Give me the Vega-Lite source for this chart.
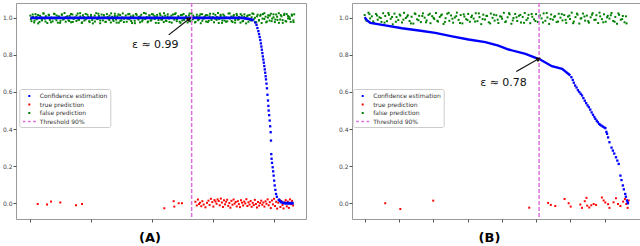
{
"$schema":"https://vega.github.io/schema/vega-lite/v6.json",
"padding":{"left":1,"top":1,"right":0,"bottom":0},
"spacing":46,
"bounds":"flush",
"resolve":{"scale":{"color":"independent","shape":"independent"}},
"datasets":{
"gA":[{"x":0,"y":1.012},{"x":18,"y":0.982},{"x":41,"y":1.005},{"x":63,"y":0.975},{"x":85,"y":1.02},{"x":104,"y":0.992},{"x":127,"y":1.015},{"x":150,"y":0.978},{"x":171,"y":1.003},{"x":190,"y":0.986},{"x":214,"y":1.024},{"x":236,"y":0.995},{"x":255,"y":1.009},{"x":279,"y":0.972},{"x":300,"y":1.017},{"x":322,"y":0.989},{"x":343,"y":1.001},{"x":366,"y":0.981},{"x":389,"y":1.022},{"x":408,"y":0.997},{"x":430,"y":1.013},{"x":452,"y":0.974},{"x":474,"y":1.007},{"x":496,"y":0.984},{"x":517,"y":1.019},{"x":539,"y":0.991},{"x":562,"y":1.026},{"x":582,"y":0.979},{"x":604,"y":1.004},{"x":627,"y":0.987},{"x":648,"y":1.011},{"x":670,"y":0.976},{"x":692,"y":1.018},{"x":713,"y":0.994},{"x":735,"y":1.002},{"x":757,"y":0.983},{"x":779,"y":1.023},{"x":800,"y":0.99},{"x":822,"y":1.008},{"x":845,"y":0.973},{"x":866,"y":1.014},{"x":888,"y":0.985},{"x":910,"y":1.021},{"x":931,"y":0.998},{"x":953,"y":1.006},{"x":975,"y":0.977},{"x":997,"y":1.016},{"x":1018,"y":0.988},{"x":1041,"y":1.0},{"x":1062,"y":0.98},{"x":1084,"y":1.025},{"x":1106,"y":0.993},{"x":1127,"y":1.01},{"x":1149,"y":0.971},{"x":1172,"y":1.018},{"x":1193,"y":0.986},{"x":1215,"y":1.003},{"x":1236,"y":0.978},{"x":1259,"y":1.02},{"x":1281,"y":0.996},{"x":1302,"y":1.012},{"x":1324,"y":0.975},{"x":1346,"y":1.006},{"x":1368,"y":0.983},{"x":1390,"y":1.022},{"x":1411,"y":0.99},{"x":1433,"y":1.009},{"x":1455,"y":0.974},{"x":1477,"y":1.015},{"x":1498,"y":0.987},{"x":1520,"y":1.024},{"x":1542,"y":0.995},{"x":1563,"y":1.001},{"x":1585,"y":0.979},{"x":1608,"y":1.019},{"x":1629,"y":0.992},{"x":1651,"y":1.008},{"x":1673,"y":0.972},{"x":1694,"y":1.013},{"x":1716,"y":0.984},{"x":1738,"y":1.021},{"x":1760,"y":0.998},{"x":1781,"y":1.005},{"x":1804,"y":0.976},{"x":1825,"y":1.017},{"x":1847,"y":0.989},{"x":1869,"y":1.026},{"x":1890,"y":0.993},{"x":1912,"y":1.004},{"x":1934,"y":0.98},{"x":1956,"y":1.014},{"x":1977,"y":0.985},{"x":1999,"y":1.02},{"x":2021,"y":0.997},{"x":2043,"y":1.01},{"x":2064,"y":0.973},{"x":2086,"y":1.016},{"x":2108,"y":0.988},{"x":2130,"y":1.023},{"x":2151,"y":0.991},{"x":2173,"y":1.007},{"x":2195,"y":0.977},{"x":2217,"y":1.012},{"x":2238,"y":0.983},{"x":2260,"y":1.019},{"x":2282,"y":0.996},{"x":2303,"y":1.002},{"x":2325,"y":0.974},{"x":2347,"y":1.018},{"x":2369,"y":0.99},{"x":2390,"y":1.025},{"x":2412,"y":0.994},{"x":2434,"y":1.009},{"x":2456,"y":0.979},{"x":2477,"y":1.015},{"x":2499,"y":0.986},{"x":2521,"y":1.021},{"x":2543,"y":0.999},{"x":2564,"y":1.006},{"x":2586,"y":0.975},{"x":2608,"y":1.013},{"x":2630,"y":0.982},{"x":2651,"y":1.024},{"x":2673,"y":0.992},{"x":2695,"y":1.003},{"x":2717,"y":0.978},{"x":2738,"y":1.017},{"x":2760,"y":0.987},{"x":2782,"y":1.011},{"x":2804,"y":0.971},{"x":2825,"y":1.02},{"x":2847,"y":0.995},{"x":2869,"y":1.008},{"x":2891,"y":0.98},{"x":2912,"y":1.014},{"x":2934,"y":0.984},{"x":2956,"y":1.022},{"x":2978,"y":0.997},{"x":2999,"y":1.004},{"x":3021,"y":0.976},{"x":3043,"y":1.016},{"x":3065,"y":0.989},{"x":3086,"y":1.026},{"x":3108,"y":0.993},{"x":3130,"y":1.01},{"x":3152,"y":0.973},{"x":3173,"y":1.018},{"x":3195,"y":0.985},{"x":3217,"y":1.002},{"x":3239,"y":0.981},{"x":3260,"y":1.023},{"x":3282,"y":0.996},{"x":3304,"y":1.007},{"x":3326,"y":0.977},{"x":3347,"y":1.015},{"x":3369,"y":0.988},{"x":3391,"y":1.021},{"x":3413,"y":0.99},{"x":3434,"y":1.005},{"x":3456,"y":0.974},{"x":3478,"y":1.012},{"x":3500,"y":0.983},{"x":3521,"y":1.019},{"x":3543,"y":0.998},{"x":3565,"y":1.009},{"x":3587,"y":0.979},{"x":3608,"y":1.016},{"x":3630,"y":0.986},{"x":3652,"y":1.024},{"x":3674,"y":0.992},{"x":3695,"y":1.001},{"x":3717,"y":0.975},{"x":3739,"y":1.017},{"x":3761,"y":0.988},{"x":3782,"y":1.011},{"x":3804,"y":0.972},{"x":3826,"y":1.02},{"x":3848,"y":0.994},{"x":3869,"y":1.006},{"x":3891,"y":0.98},{"x":3913,"y":1.014},{"x":3935,"y":0.985},{"x":3956,"y":1.022},{"x":3978,"y":0.996},{"x":4000,"y":1.003},{"x":4022,"y":0.977},{"x":4043,"y":1.018},{"x":4065,"y":0.989},{"x":4087,"y":1.025},{"x":4109,"y":0.991},{"x":4130,"y":1.008},{"x":4152,"y":0.973},{"x":4174,"y":1.015},{"x":4196,"y":0.983},{"x":4217,"y":1.02},{"x":4239,"y":0.997},{"x":4261,"y":1.004},{"x":4283,"y":0.978},{"x":4304,"y":1.012},{"x":4326,"y":0.986},{"x":4340,"y":1.019},
{"x":9,"y":0.994},{"x":39,"y":1.018},{"x":69,"y":0.985},{"x":99,"y":1.006},{"x":129,"y":0.97},{"x":159,"y":1.011},{"x":189,"y":0.99},{"x":219,"y":1.023},{"x":249,"y":0.98},{"x":279,"y":1.0},{"x":309,"y":1.014},{"x":339,"y":0.976},{"x":369,"y":0.997},{"x":399,"y":1.02},{"x":429,"y":0.987},{"x":459,"y":1.008},{"x":489,"y":0.973},{"x":519,"y":1.016},{"x":549,"y":0.993},{"x":579,"y":1.003},{"x":609,"y":1.009},{"x":639,"y":0.983},{"x":669,"y":1.021},{"x":699,"y":0.978},{"x":729,"y":0.999},{"x":759,"y":1.013},{"x":789,"y":0.989},{"x":819,"y":1.025},{"x":849,"y":0.975},{"x":879,"y":1.004},{"x":909,"y":0.991},{"x":939,"y":1.017},{"x":969,"y":0.982},{"x":999,"y":1.007},{"x":1029,"y":0.97},{"x":1059,"y":1.012},{"x":1089,"y":0.996},{"x":1119,"y":1.022},{"x":1149,"y":0.986},{"x":1179,"y":1.001},{"x":1209,"y":1.015},{"x":1239,"y":0.979},{"x":1269,"y":1.005},{"x":1299,"y":0.988},{"x":1329,"y":1.024},{"x":1359,"y":0.992},{"x":1389,"y":1.01},{"x":1419,"y":0.974},{"x":1449,"y":1.019},{"x":1479,"y":0.984},{"x":1509,"y":1.002},{"x":1539,"y":0.977},{"x":1569,"y":1.013},{"x":1599,"y":0.995},{"x":1629,"y":1.021},{"x":1659,"y":0.983},{"x":1689,"y":1.006},{"x":1719,"y":0.971},{"x":1749,"y":1.016},{"x":1779,"y":0.99},{"x":1809,"y":1.008},{"x":1839,"y":0.981},{"x":1869,"y":1.0},{"x":1899,"y":1.023},{"x":1929,"y":0.976},{"x":1959,"y":1.011},{"x":1989,"y":0.987},{"x":2019,"y":1.018},{"x":2049,"y":0.994},{"x":2079,"y":1.004},{"x":2109,"y":0.972},{"x":2139,"y":1.014},{"x":2169,"y":0.99},{"x":2199,"y":1.025},{"x":2229,"y":0.985},{"x":2259,"y":1.007},{"x":2289,"y":0.978},{"x":2319,"y":1.012},{"x":2349,"y":0.998},{"x":2379,"y":1.02},{"x":2409,"y":0.982},{"x":2439,"y":1.001},{"x":2469,"y":0.973},{"x":2499,"y":1.016},{"x":2529,"y":0.989},{"x":2559,"y":1.009},{"x":2589,"y":0.996},{"x":2619,"y":1.023},{"x":2649,"y":0.98},{"x":2679,"y":1.012},{"x":2709,"y":0.975},{"x":2739,"y":1.005},{"x":2769,"y":0.992},{"x":2799,"y":1.019},{"x":2829,"y":0.984},{"x":2859,"y":1.002},{"x":2889,"y":1.015},{"x":2919,"y":0.977},{"x":2949,"y":1.008},{"x":2979,"y":0.988},{"x":3009,"y":1.022},{"x":3039,"y":0.995},{"x":3069,"y":1.004},{"x":3099,"y":0.972},{"x":3129,"y":1.017},{"x":3159,"y":0.986},{"x":3189,"y":1.011},{"x":3219,"y":0.979},{"x":3249,"y":1.0},{"x":3279,"y":1.024},{"x":3309,"y":0.983},{"x":3339,"y":1.009},{"x":3369,"y":0.974},{"x":3399,"y":1.014},{"x":3429,"y":0.993},{"x":3459,"y":1.02},{"x":3489,"y":0.981},{"x":3519,"y":1.006},{"x":3549,"y":0.97},{"x":3579,"y":1.013},{"x":3609,"y":0.99},{"x":3639,"y":1.003},{"x":3669,"y":1.021},{"x":3699,"y":0.978},{"x":3729,"y":1.008},{"x":3759,"y":0.985},{"x":3789,"y":1.017},{"x":3819,"y":0.996},{"x":3849,"y":1.025},{"x":3879,"y":0.976},{"x":3909,"y":1.002},{"x":3939,"y":1.012},{"x":3969,"y":0.982},{"x":3999,"y":1.019},{"x":4029,"y":0.991},{"x":4059,"y":1.006},{"x":4089,"y":0.973},{"x":4119,"y":1.015},{"x":4149,"y":0.988},{"x":4179,"y":1.022},{"x":4209,"y":0.98},{"x":4239,"y":1.01},{"x":4269,"y":0.994},{"x":4299,"y":1.018},{"x":4329,"y":0.977}],
"rA":[{"x":121,"y":-0.004},{"x":274,"y":-0.007},{"x":340,"y":0.009},{"x":493,"y":0.004},{"x":751,"y":-0.011},{"x":850,"y":-0.004},{"x":2204,"y":-0.027},{"x":2357,"y":0.011},{"x":2368,"y":-0.018},{"x":2440,"y":0.0},{"x":2494,"y":0.0},{"x":2715,"y":0.008},{"x":2738,"y":-0.012},{"x":2756,"y":0.02},{"x":2775,"y":-0.004},{"x":2790,"y":0.003},{"x":2812,"y":-0.016},{"x":2830,"y":0.011},{"x":2851,"y":-0.007},{"x":2880,"y":-0.022},{"x":2905,"y":0.002},{"x":2930,"y":0.014},{"x":2948,"y":-0.009},{"x":2970,"y":0.024},{"x":2992,"y":0.006},{"x":3010,"y":-0.018},{"x":3028,"y":0.017},{"x":3045,"y":0.009},{"x":3063,"y":-0.003},{"x":3080,"y":0.021},{"x":3098,"y":0.012},{"x":3115,"y":-0.011},{"x":3133,"y":0.025},{"x":3150,"y":0.004},{"x":3168,"y":-0.02},{"x":3185,"y":0.016},{"x":3203,"y":-0.006},{"x":3220,"y":0.008},{"x":3238,"y":0.019},{"x":3255,"y":-0.014},{"x":3273,"y":0.001},{"x":3290,"y":-0.024},{"x":3308,"y":0.013},{"x":3325,"y":-0.008},{"x":3343,"y":0.02},{"x":3360,"y":-0.002},{"x":3378,"y":0.007},{"x":3395,"y":-0.017},{"x":3413,"y":0.011},{"x":3430,"y":-0.005},{"x":3448,"y":-0.021},{"x":3465,"y":0.016},{"x":3483,"y":0.003},{"x":3500,"y":-0.012},{"x":3518,"y":0.009},{"x":3535,"y":-0.001},{"x":3553,"y":0.022},{"x":3570,"y":-0.015},{"x":3588,"y":0.005},{"x":3605,"y":-0.007},{"x":3623,"y":0.012},{"x":3640,"y":-0.019},{"x":3658,"y":0.002},{"x":3675,"y":-0.01},{"x":3693,"y":0.018},{"x":3710,"y":-0.004},{"x":3728,"y":-0.023},{"x":3745,"y":0.007},{"x":3763,"y":-0.013},{"x":3780,"y":0.001},{"x":3798,"y":0.014},{"x":3815,"y":-0.008},{"x":3833,"y":0.004},{"x":3850,"y":-0.018},{"x":3868,"y":0.01},{"x":3885,"y":-0.003},{"x":3903,"y":0.021},{"x":3920,"y":-0.011},{"x":3938,"y":0.006},{"x":3955,"y":-0.026},{"x":3973,"y":0.015},{"x":3990,"y":-0.006},{"x":4008,"y":0.024},{"x":4025,"y":-0.015},{"x":4043,"y":0.008},{"x":4060,"y":-0.029},{"x":4078,"y":0.003},{"x":4095,"y":0.019},{"x":4113,"y":-0.02},{"x":4130,"y":0.012},{"x":4148,"y":-0.009},{"x":4165,"y":-0.028},{"x":4183,"y":0.005},{"x":4200,"y":0.017},{"x":4218,"y":-0.017},{"x":4235,"y":0.009},{"x":4253,"y":-0.025},{"x":4270,"y":0.021},{"x":4288,"y":-0.005},{"x":4305,"y":0.013},{"x":4322,"y":-0.012}],
"bA":[{"x":3700,"y":0.975},{"x":3720,"y":0.962},{"x":3735,"y":0.945},{"x":3750,"y":0.928},{"x":3762,"y":0.912},{"x":3772,"y":0.896},{"x":3783,"y":0.88},{"x":3792,"y":0.862},{"x":3800,"y":0.845},{"x":3808,"y":0.828},{"x":3816,"y":0.81},{"x":3824,"y":0.792},{"x":3832,"y":0.775},{"x":3840,"y":0.758},{"x":3848,"y":0.74},{"x":3856,"y":0.722},{"x":3863,"y":0.704},{"x":3870,"y":0.685},{"x":3876,"y":0.668},{"x":3884,"y":0.645},{"x":3892,"y":0.62},{"x":3900,"y":0.585},{"x":3909,"y":0.554},{"x":3915,"y":0.525},{"x":3920,"y":0.5},{"x":3928,"y":0.475},{"x":3937,"y":0.446},{"x":3945,"y":0.415},{"x":3953,"y":0.383},{"x":3958,"y":0.338},{"x":3963,"y":0.265},{"x":3968,"y":0.24},{"x":3975,"y":0.218},{"x":3986,"y":0.194},{"x":3994,"y":0.172},{"x":4002,"y":0.149},{"x":4010,"y":0.122},{"x":4019,"y":0.096},{"x":4030,"y":0.072},{"x":4041,"y":0.05},{"x":4055,"y":0.035}],
"lA":[{"g":1,"x":0,"y":1.0},{"g":1,"x":3481,"y":1.0},{"g":1,"x":3591,"y":0.995},{"g":1,"x":3674,"y":0.986},{"g":2,"x":4074,"y":0.023},{"g":2,"x":4128,"y":0.005},{"g":2,"x":4194,"y":0.0},{"g":2,"x":4332,"y":0.0}],
"tA":[{"x":2653}],
"aA":[{"x":2276,"y":0.908,"x2":2615,"y2":0.995}],
"xA":[{"x":2055,"y":0.855,"t":"ε ≈ 0.99"}],
"gB":[{"x":0.0,"y":1.015},{"x":0.05,"y":0.985},{"x":0.11,"y":1.028},{"x":0.16,"y":0.997},{"x":0.21,"y":1.008},{"x":0.27,"y":0.972},{"x":0.33,"y":1.021},{"x":0.38,"y":0.99},{"x":0.43,"y":1.003},{"x":0.49,"y":0.978},{"x":0.54,"y":1.025},{"x":0.6,"y":1.01},{"x":0.65,"y":0.982},{"x":0.71,"y":1.017},{"x":0.76,"y":0.995},{"x":0.82,"y":0.965},{"x":0.87,"y":1.023},{"x":0.93,"y":1.004},{"x":0.98,"y":0.988},{"x":1.04,"y":1.012},{"x":1.09,"y":0.975},{"x":1.15,"y":1.027},{"x":1.2,"y":0.999},{"x":1.26,"y":1.014},{"x":1.31,"y":0.983},{"x":1.37,"y":1.006},{"x":1.42,"y":0.969},{"x":1.48,"y":1.02},{"x":1.53,"y":0.992},{"x":1.59,"y":1.011},{"x":1.64,"y":0.977},{"x":1.7,"y":1.024},{"x":1.75,"y":1.001},{"x":1.81,"y":0.986},{"x":1.86,"y":1.016},{"x":1.92,"y":0.971},{"x":1.97,"y":1.009},{"x":2.03,"y":0.994},{"x":2.08,"y":1.026},{"x":2.14,"y":0.98},{"x":2.19,"y":1.005},{"x":2.25,"y":1.018},{"x":2.3,"y":0.967},{"x":2.36,"y":0.998},{"x":2.41,"y":1.022},{"x":2.47,"y":0.984},{"x":2.52,"y":1.013},{"x":2.58,"y":0.974},{"x":2.63,"y":1.002},{"x":2.69,"y":1.028},{"x":2.74,"y":0.989},{"x":2.8,"y":1.015},{"x":2.85,"y":0.97},{"x":2.91,"y":1.007},{"x":2.96,"y":0.993},{"x":3.02,"y":1.021},{"x":3.07,"y":0.979},{"x":3.13,"y":1.012},{"x":3.18,"y":0.996},{"x":3.24,"y":1.025},{"x":3.29,"y":0.982},{"x":3.35,"y":1.004},{"x":3.4,"y":0.966},{"x":3.46,"y":1.017},{"x":3.51,"y":0.991},{"x":3.57,"y":1.01},{"x":3.62,"y":0.976},{"x":3.68,"y":1.023},{"x":3.73,"y":1.0},{"x":3.79,"y":0.985},{"x":3.84,"y":1.014},{"x":3.9,"y":0.972},{"x":3.95,"y":1.008},{"x":4.01,"y":0.995},{"x":4.06,"y":1.027},{"x":4.12,"y":0.981},{"x":4.17,"y":1.003},{"x":4.23,"y":1.019},{"x":4.28,"y":0.968},{"x":4.34,"y":0.999},{"x":4.39,"y":1.021},{"x":4.45,"y":0.983},{"x":4.5,"y":1.011},{"x":4.56,"y":0.975},{"x":4.61,"y":1.005},{"x":4.67,"y":1.026},{"x":4.72,"y":0.988},{"x":4.78,"y":1.016},{"x":4.83,"y":0.971},{"x":4.89,"y":1.006},{"x":4.94,"y":0.992},{"x":5.0,"y":1.02},{"x":5.05,"y":0.978},{"x":5.11,"y":1.013},{"x":5.16,"y":0.997},{"x":5.22,"y":1.024},{"x":5.27,"y":0.984},{"x":5.33,"y":1.002},{"x":5.38,"y":0.967},{"x":5.44,"y":1.018},{"x":5.49,"y":0.99},{"x":5.55,"y":1.009},{"x":5.6,"y":0.977},{"x":5.66,"y":1.022},{"x":5.71,"y":1.001},{"x":5.77,"y":0.986},{"x":5.82,"y":1.015},{"x":5.88,"y":0.973},{"x":5.93,"y":1.007},{"x":5.99,"y":0.994},{"x":6.04,"y":1.028},{"x":6.1,"y":0.98},{"x":6.15,"y":1.004},{"x":6.21,"y":1.017},{"x":6.26,"y":0.969},{"x":6.32,"y":0.998},{"x":6.37,"y":1.023},{"x":6.43,"y":0.985},{"x":6.48,"y":1.012},{"x":6.54,"y":0.974},{"x":6.59,"y":1.003},{"x":6.65,"y":1.025},{"x":6.7,"y":0.989},{"x":6.76,"y":1.014},{"x":6.81,"y":0.972},{"x":6.87,"y":1.008},{"x":6.92,"y":0.993},{"x":6.98,"y":1.019},{"x":7.03,"y":0.979},{"x":7.09,"y":1.011},{"x":7.14,"y":0.996},{"x":7.2,"y":1.026},{"x":7.25,"y":0.983},{"x":7.31,"y":1.005},{"x":7.36,"y":0.968},{"x":7.42,"y":1.016},{"x":7.47,"y":0.99},{"x":7.53,"y":1.01},{"x":7.58,"y":0.976},{"x":7.64,"y":0.97},
{"x":0.03,"y":0.992},{"x":0.14,"y":1.02},{"x":0.25,"y":0.981},{"x":0.36,"y":1.012},{"x":0.47,"y":0.999},{"x":0.58,"y":0.974},{"x":0.69,"y":1.026},{"x":0.8,"y":1.005},{"x":0.91,"y":0.979},{"x":1.02,"y":1.018},{"x":1.13,"y":0.99},{"x":1.24,"y":1.007},{"x":1.35,"y":0.97},{"x":1.46,"y":1.024},{"x":1.57,"y":0.987},{"x":1.68,"y":1.01},{"x":1.79,"y":0.976},{"x":1.9,"y":1.022},{"x":2.01,"y":1.0},{"x":2.12,"y":0.984},{"x":2.23,"y":1.013},{"x":2.34,"y":0.978},{"x":2.45,"y":1.027},{"x":2.56,"y":0.995},{"x":2.67,"y":1.009},{"x":2.78,"y":0.972},{"x":2.89,"y":1.019},{"x":3.0,"y":0.988},{"x":3.11,"y":1.004},{"x":3.22,"y":0.98},{"x":3.33,"y":1.024},{"x":3.44,"y":0.993},{"x":3.55,"y":1.011},{"x":3.66,"y":0.97},{"x":3.77,"y":1.017},{"x":3.88,"y":0.99},{"x":3.99,"y":1.006},{"x":4.1,"y":0.977},{"x":4.21,"y":1.025},{"x":4.32,"y":0.986},{"x":4.43,"y":1.003},{"x":4.54,"y":1.016},{"x":4.65,"y":0.973},{"x":4.76,"y":0.998},{"x":4.87,"y":1.021},{"x":4.98,"y":0.983},{"x":5.09,"y":1.01},{"x":5.2,"y":0.975},{"x":5.31,"y":1.026},{"x":5.42,"y":0.994},{"x":5.53,"y":1.005},{"x":5.64,"y":0.98},{"x":5.75,"y":1.02},{"x":5.86,"y":0.989},{"x":5.97,"y":1.012},{"x":6.08,"y":0.971},{"x":6.19,"y":1.023},{"x":6.3,"y":0.996},{"x":6.41,"y":1.007},{"x":6.52,"y":0.982},{"x":6.63,"y":1.017},{"x":6.74,"y":0.99},{"x":6.85,"y":1.028},{"x":6.96,"y":0.976},{"x":7.07,"y":1.003},{"x":7.18,"y":1.014},{"x":7.29,"y":0.979},{"x":7.4,"y":1.024},{"x":7.51,"y":0.993},{"x":7.62,"y":1.008}],
"rB":[{"x":0.6,"y":0.0},{"x":1.04,"y":-0.031},{"x":2.0,"y":0.014},{"x":4.8,"y":-0.024},{"x":5.35,"y":0.002},{"x":5.43,"y":-0.009},{"x":5.56,"y":-0.015},{"x":5.83,"y":0.023},{"x":5.95,"y":0.0},{"x":6.01,"y":-0.018},{"x":6.29,"y":-0.007},{"x":6.34,"y":-0.025},{"x":6.42,"y":0.011},{"x":6.47,"y":0.029},{"x":6.49,"y":-0.013},{"x":6.55,"y":-0.023},{"x":6.61,"y":-0.011},{"x":6.68,"y":-0.004},{"x":6.75,"y":-0.009},{"x":6.92,"y":0.031},{"x":6.97,"y":0.015},{"x":7.02,"y":0.004},{"x":7.1,"y":-0.005},{"x":7.14,"y":-0.025},{"x":7.26,"y":0.005},{"x":7.33,"y":0.027},{"x":7.39,"y":-0.004},{"x":7.46,"y":-0.015},{"x":7.54,"y":0.009},{"x":7.59,"y":0.023},{"x":7.63,"y":-0.004},{"x":7.67,"y":-0.025},{"x":7.7,"y":0.015}],
"bB":[{"x":6.03,"y":0.68},{"x":6.07,"y":0.665},{"x":6.1,"y":0.65},{"x":6.14,"y":0.635},{"x":6.18,"y":0.624},{"x":6.22,"y":0.61},{"x":6.26,"y":0.6},{"x":6.3,"y":0.59},{"x":6.34,"y":0.581},{"x":6.38,"y":0.567},{"x":6.42,"y":0.553},{"x":6.46,"y":0.54},{"x":6.5,"y":0.528},{"x":6.54,"y":0.518},{"x":6.58,"y":0.505},{"x":6.62,"y":0.49},{"x":6.66,"y":0.477},{"x":6.7,"y":0.465},{"x":6.73,"y":0.455},{"x":6.77,"y":0.445},{"x":6.8,"y":0.437},{"x":6.84,"y":0.428},{"x":6.87,"y":0.423},{"x":6.91,"y":0.418},{"x":6.95,"y":0.413},{"x":6.99,"y":0.409},{"x":7.02,"y":0.405},{"x":7.05,"y":0.385},{"x":7.07,"y":0.374},{"x":7.1,"y":0.355},{"x":7.14,"y":0.329},{"x":7.2,"y":0.3},{"x":7.24,"y":0.284},{"x":7.28,"y":0.268},{"x":7.33,"y":0.248},{"x":7.37,"y":0.23},{"x":7.41,"y":0.212},{"x":7.46,"y":0.149},{"x":7.49,"y":0.125},{"x":7.53,"y":0.096},{"x":7.56,"y":0.075},{"x":7.6,"y":0.05},{"x":7.62,"y":0.035},{"x":7.65,"y":0.015},{"x":7.67,"y":0.005},{"x":7.68,"y":0.0}],
"lB":[{"g":1,"x":0,"y":1.004},{"g":1,"x":0.07,"y":0.986},{"g":1,"x":0.165,"y":0.973},{"g":1,"x":0.6,"y":0.959},{"g":1,"x":1.09,"y":0.944},{"g":1,"x":1.58,"y":0.932},{"g":1,"x":2.06,"y":0.919},{"g":1,"x":2.55,"y":0.9},{"g":1,"x":3.03,"y":0.883},{"g":1,"x":3.52,"y":0.869},{"g":1,"x":3.9,"y":0.85},{"g":1,"x":4.2,"y":0.829},{"g":1,"x":4.69,"y":0.806},{"g":1,"x":5.12,"y":0.775},{"g":1,"x":5.46,"y":0.739},{"g":1,"x":5.76,"y":0.725},{"g":1,"x":6.0,"y":0.689}],
"tB":[{"x":5.087}],
"aB":[{"x":4.423,"y":0.711,"x2":5.076,"y2":0.779}],
"xB":[{"x":4.05,"y":0.648,"t":"ε ≈ 0.78"}]
},
"hconcat":[
{"width":290,"height":216,
 "title":{"text":"(A)","dx":-11},
 "layer":[
  {"data":{"name":"gA"},"mark":{"type":"point","filled":true,"size":81,"opacity":1},
   "encoding":{
    "x":{"field":"x","type":"quantitative","scale":{"domain":[-236,4534],"nice":false,"zero":false},"axis":{"title":null,"values":[0,1000,2000,3000,4000]}},
    "y":{"field":"y","type":"quantitative","scale":{"domain":[-0.085,1.08],"nice":false,"zero":false},"axis":{"title":null,"values":[0,0.2,0.4,0.6,0.8,1.0]}},
    "color":{"datum":"false prediction","type":"nominal","scale":{"domain":["Confidence estimation","true prediction","false prediction","Threshold 90%"],"range":["#0000ff","#ff0000","#008000","#dd6fdd"]},"legend":{"title":null,"legendX":3.3,"legendY":86}},
    "shape":{"datum":"false prediction","type":"nominal","scale":{"domain":["Confidence estimation","true prediction","false prediction","Threshold 90%"],"range":["M-0.22,-0.22H0.22V0.22H-0.22Z","M-0.22,-0.22H0.22V0.22H-0.22Z","M-0.22,-0.22H0.22V0.22H-0.22Z","M-1.45,-0.16H-0.85V0.16H-1.45ZM-0.3,-0.16H0.3V0.16H-0.3ZM0.85,-0.16H1.45V0.16H0.85Z"]},"legend":{"title":null,"legendX":3.3,"legendY":86}}}},
  {"data":{"name":"rA"},"mark":{"type":"point","filled":true,"size":81,"opacity":1},
   "encoding":{"x":{"field":"x","type":"quantitative"},"y":{"field":"y","type":"quantitative"},
    "color":{"datum":"true prediction","type":"nominal"},"shape":{"datum":"true prediction","type":"nominal"}}},
  {"data":{"name":"bA"},"mark":{"type":"point","filled":true,"size":110,"opacity":1},
   "encoding":{"x":{"field":"x","type":"quantitative"},"y":{"field":"y","type":"quantitative"},
    "color":{"datum":"Confidence estimation","type":"nominal"},"shape":{"datum":"Confidence estimation","type":"nominal"}}},
  {"data":{"name":"lA"},"mark":{"type":"line","color":"#0000ff","strokeWidth":2.8},
   "encoding":{"x":{"field":"x","type":"quantitative"},"y":{"field":"y","type":"quantitative"},"detail":{"field":"g","type":"nominal"}}},
  {"data":{"name":"tA"},"mark":{"type":"rule","color":"#dd6fdd","strokeWidth":1.5,"strokeDash":[4,2]},
   "encoding":{"x":{"field":"x","type":"quantitative"}}},
  {"data":{"name":"aA"},"mark":{"type":"rule","color":"#111","strokeWidth":1.2},
   "encoding":{"x":{"field":"x","type":"quantitative"},"y":{"field":"y","type":"quantitative"},"x2":{"field":"x2"},"y2":{"field":"y2"}}},
  {"data":{"name":"aA"},"mark":{"type":"point","shape":"triangle-up","filled":true,"color":"#111","size":30,"angle":52,"opacity":1},
   "encoding":{"x":{"field":"x2","type":"quantitative"},"y":{"field":"y2","type":"quantitative"}}},
  {"data":{"name":"xA"},"mark":{"type":"text","font":"DejaVu Sans","fontSize":11,"color":"#111","align":"center","baseline":"middle"},
   "encoding":{"x":{"field":"x","type":"quantitative"},"y":{"field":"y","type":"quantitative"},"text":{"field":"t"}}}
 ]},
{"width":289,"height":216,
 "title":{"text":"(B)","dx":-7},
 "layer":[
  {"data":{"name":"gB"},"mark":{"type":"point","filled":true,"size":81,"opacity":1},
   "encoding":{
    "x":{"field":"x","type":"quantitative","scale":{"domain":[-0.369,8.06],"nice":false,"zero":false},"axis":{"title":null,"values":[0,1,2,3,4,5,6,7]}},
    "y":{"field":"y","type":"quantitative","scale":{"domain":[-0.085,1.08],"nice":false,"zero":false},"axis":{"title":null,"values":[0,0.2,0.4,0.6,0.8,1.0]}},
    "color":{"datum":"false prediction","type":"nominal","scale":{"domain":["Confidence estimation","true prediction","false prediction","Threshold 90%"],"range":["#0000ff","#ff0000","#008000","#dd6fdd"]},"legend":{"title":null,"legendX":0.7,"legendY":86}},
    "shape":{"datum":"false prediction","type":"nominal","scale":{"domain":["Confidence estimation","true prediction","false prediction","Threshold 90%"],"range":["M-0.22,-0.22H0.22V0.22H-0.22Z","M-0.22,-0.22H0.22V0.22H-0.22Z","M-0.22,-0.22H0.22V0.22H-0.22Z","M-1.45,-0.16H-0.85V0.16H-1.45ZM-0.3,-0.16H0.3V0.16H-0.3ZM0.85,-0.16H1.45V0.16H0.85Z"]},"legend":{"title":null,"legendX":0.7,"legendY":86}}}},
  {"data":{"name":"rB"},"mark":{"type":"point","filled":true,"size":81,"opacity":1},
   "encoding":{"x":{"field":"x","type":"quantitative"},"y":{"field":"y","type":"quantitative"},
    "color":{"datum":"true prediction","type":"nominal"},"shape":{"datum":"true prediction","type":"nominal"}}},
  {"data":{"name":"bB"},"mark":{"type":"point","filled":true,"size":110,"opacity":1},
   "encoding":{"x":{"field":"x","type":"quantitative"},"y":{"field":"y","type":"quantitative"},
    "color":{"datum":"Confidence estimation","type":"nominal"},"shape":{"datum":"Confidence estimation","type":"nominal"}}},
  {"data":{"name":"lB"},"mark":{"type":"line","color":"#0000ff","strokeWidth":2.4},
   "encoding":{"x":{"field":"x","type":"quantitative"},"y":{"field":"y","type":"quantitative"},"detail":{"field":"g","type":"nominal"}}},
  {"data":{"name":"tB"},"mark":{"type":"rule","color":"#dd6fdd","strokeWidth":1.5,"strokeDash":[4,2]},
   "encoding":{"x":{"field":"x","type":"quantitative"}}},
  {"data":{"name":"aB"},"mark":{"type":"rule","color":"#111","strokeWidth":1.2},
   "encoding":{"x":{"field":"x","type":"quantitative"},"y":{"field":"y","type":"quantitative"},"x2":{"field":"x2"},"y2":{"field":"y2"}}},
  {"data":{"name":"aB"},"mark":{"type":"point","shape":"triangle-up","filled":true,"color":"#111","size":30,"angle":61,"opacity":1},
   "encoding":{"x":{"field":"x2","type":"quantitative"},"y":{"field":"y2","type":"quantitative"}}},
  {"data":{"name":"xB"},"mark":{"type":"text","font":"DejaVu Sans","fontSize":11,"color":"#111","align":"center","baseline":"middle"},
   "encoding":{"x":{"field":"x","type":"quantitative"},"y":{"field":"y","type":"quantitative"},"text":{"field":"t"}}}
 ]}
],
"config":{
 "font":"DejaVu Sans",
 "view":{"stroke":"#9a9a9a","strokeWidth":1},
 "axisX":{"labels":false,"tickSize":3,"domain":false,"grid":false,"tickColor":"#555"},
 "axisY":{"labelFontSize":6,"labelFont":"DejaVu Sans","labelColor":"#444","tickSize":3,"labelPadding":1,"domain":false,"grid":false,"tickColor":"#555","format":".1f"},
 "legend":{"orient":"none","symbolSize":81,"labelFontSize":6,"labelFont":"DejaVu Sans","labelColor":"#333","rowPadding":0.5,"padding":2.5,"symbolOffset":3,"labelOffset":6,"strokeColor":"#cccccc","fillColor":"#ffffff","cornerRadius":2,"symbolStrokeWidth":0,"symbolOpacity":1},
 "title":{"orient":"bottom","font":"DejaVu Sans","fontSize":13,"fontWeight":"bold","color":"#000","offset":9}
}
}
